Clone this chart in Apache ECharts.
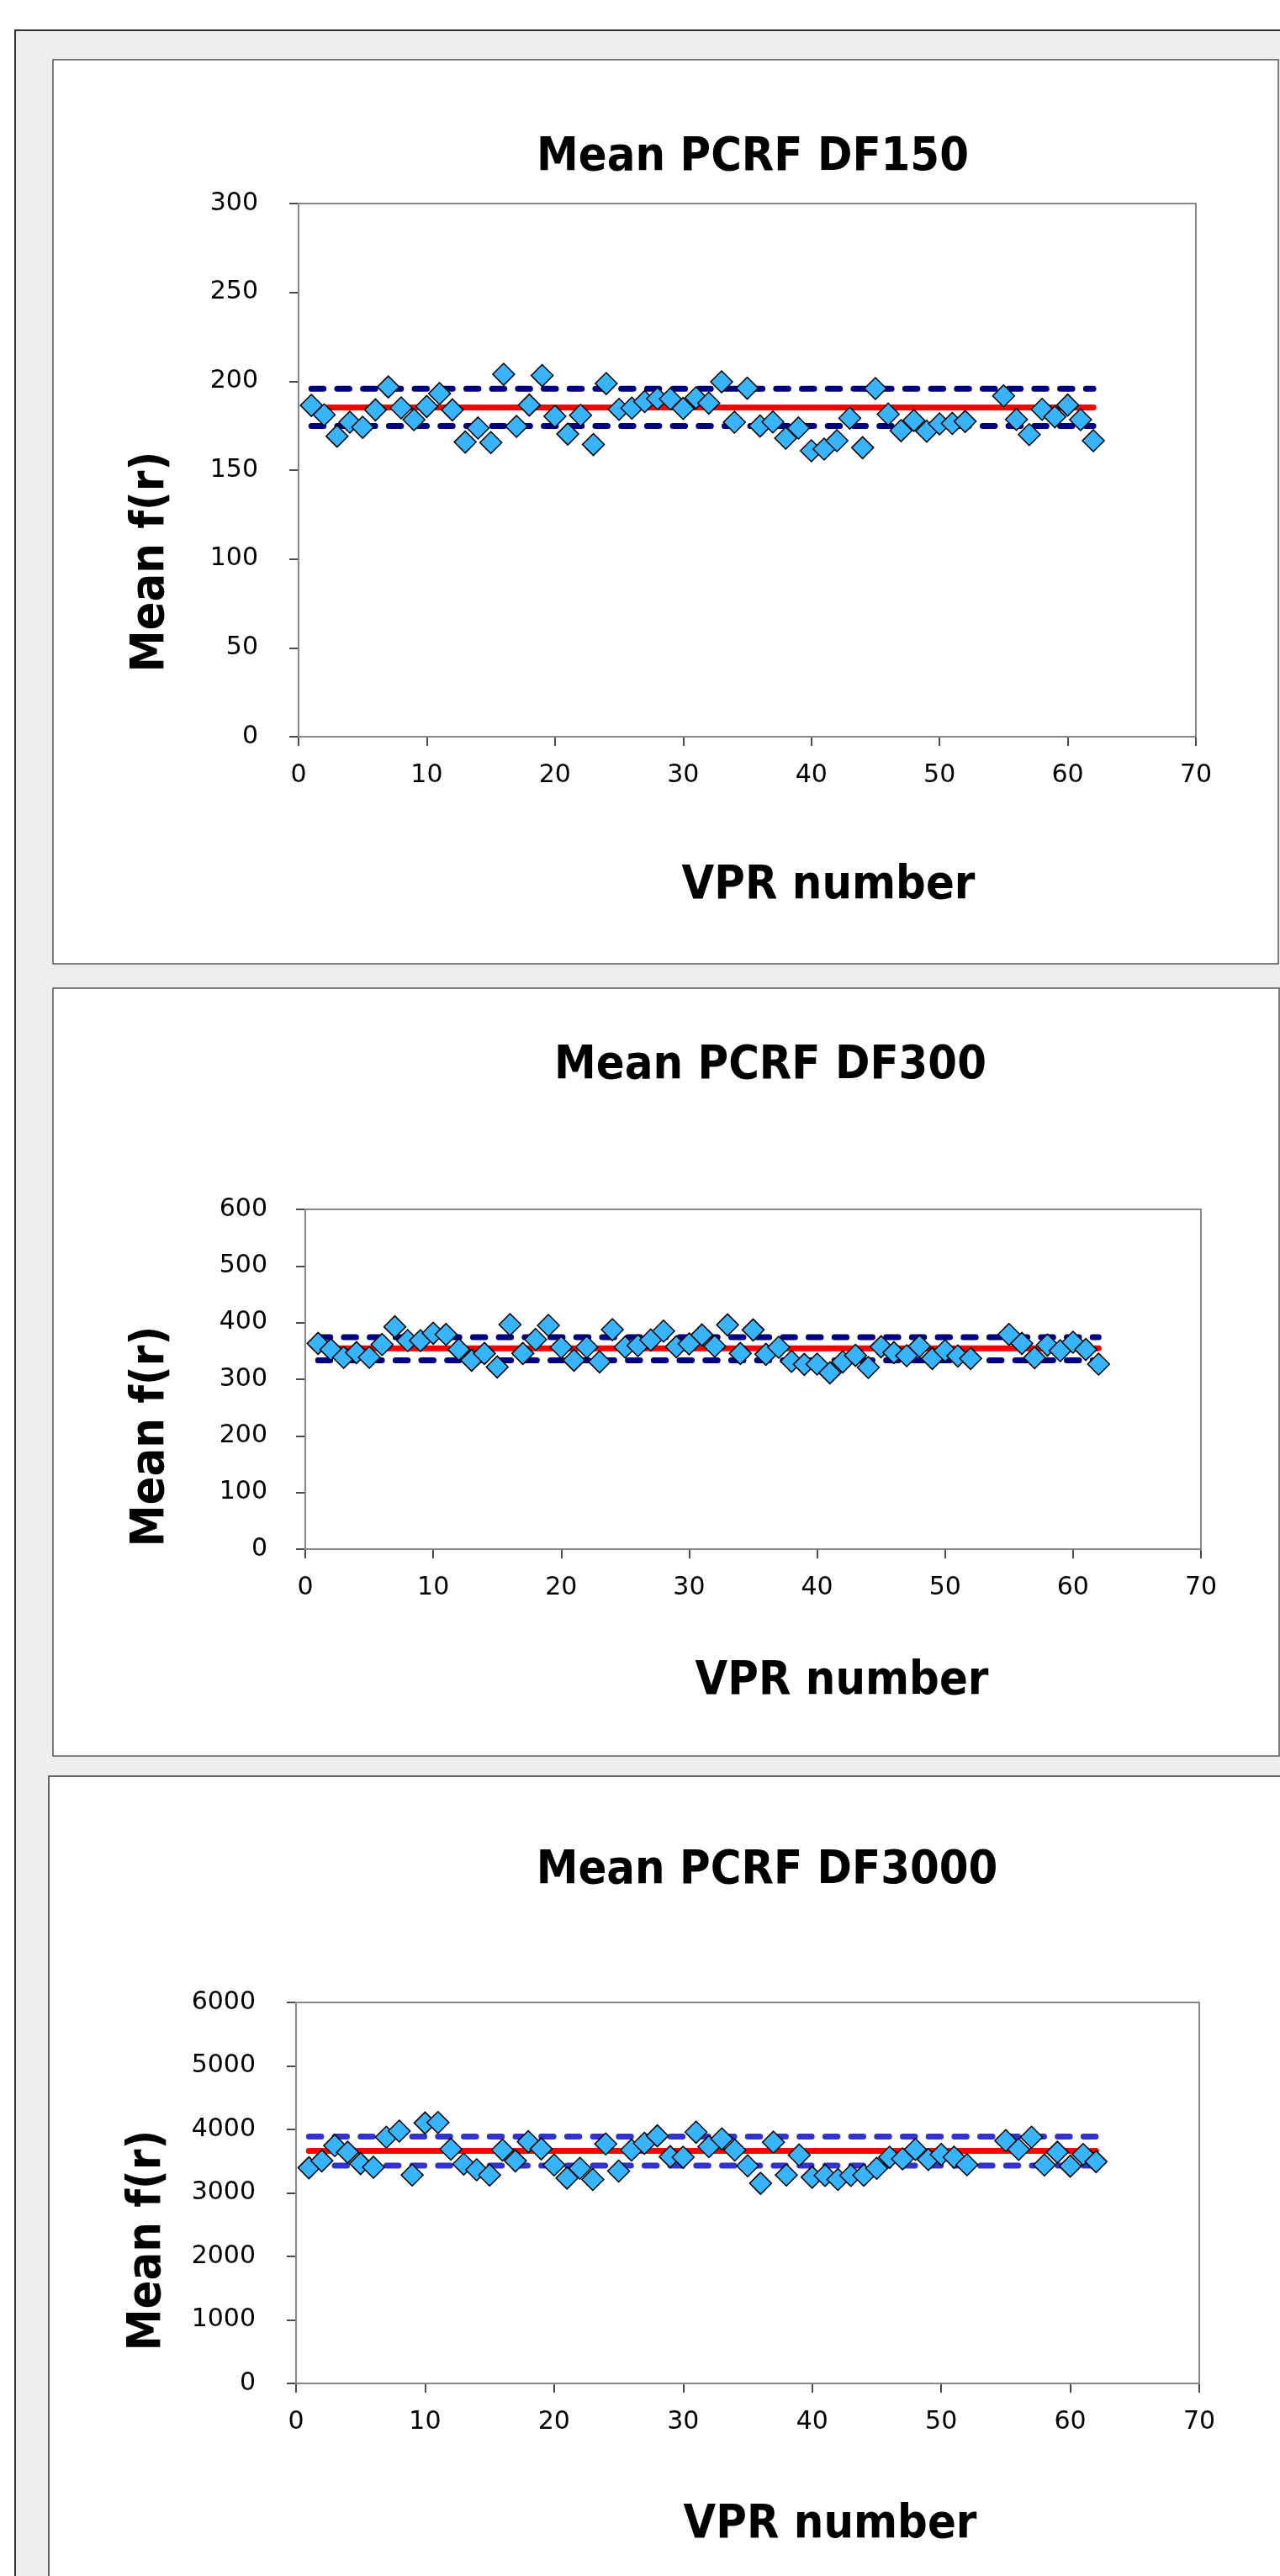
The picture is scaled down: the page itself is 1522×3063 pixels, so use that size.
<!DOCTYPE html>
<html>
<head>
<meta charset="utf-8">
<script src="https://cdn.jsdelivr.net/npm/echarts@6/dist/echarts.min.js"></script>
<style>
  html, body { margin: 0; padding: 0; background: #ffffff; }
  #chart { width: 1522px; height: 3063px; }
</style>
</head>
<body>
<div id="chart"></div>
<script>
// VPR numbers 53 and 54 have no point
const vprNumbers = [1, 2, 3, 4, 5, 6, 7, 8, 9, 10, 11, 12, 13, 14, 15, 16, 17, 18, 19, 20,
  21, 22, 23, 24, 25, 26, 27, 28, 29, 30, 31, 32, 33, 34, 35, 36, 37, 38, 39, 40,
  41, 42, 43, 44, 45, 46, 47, 48, 49, 50, 51, 52, 55, 56, 57, 58, 59, 60, 61, 62];

const df150Values = [186.4, 181.1, 169.1, 177.0, 174.1, 183.9, 196.8, 185.0, 178.4, 185.8,
  193.1, 183.9, 165.8, 173.7, 165.5, 203.9, 174.6, 186.6, 203.2, 180.3,
  170.3, 180.9, 164.4, 198.7, 184.2, 184.9, 188.6, 190.2, 190.1, 184.7,
  190.7, 187.7, 199.7, 177.0, 196.1, 174.8, 177.1, 168.0, 173.7, 160.9,
  161.8, 166.6, 179.2, 162.6, 195.9, 181.5, 172.2, 177.9, 171.9, 176.0,
  176.3, 177.4, 191.8, 178.5, 170.0, 184.2, 180.0, 186.6, 178.4, 166.6];

const df300Values = [363.3, 352.5, 338.6, 347.0, 338.6, 361.4, 392.6, 368.3, 368.3, 381.2,
  379.2, 352.5, 333.6, 345.5, 321.7, 396.5, 345.5, 370.3, 395.0, 356.4,
  333.6, 356.9, 330.7, 387.6, 356.9, 359.4, 369.3, 385.1, 357.4, 362.4,
  378.2, 358.4, 396.0, 345.5, 387.1, 344.0, 356.4, 331.6, 326.2, 326.7,
  311.3, 330.7, 342.1, 320.8, 357.4, 347.0, 341.6, 358.4, 336.6, 350.5,
  341.1, 336.6, 379.2, 363.3, 338.1, 360.4, 350.5, 365.3, 352.5, 326.7];

const df3000Values = [3396, 3505, 3746, 3641, 3462, 3405, 3877, 3974, 3282, 4101,
  4109, 3689, 3453, 3365, 3282, 3676, 3505, 3807, 3694, 3440,
  3234, 3387, 3212, 3772, 3344, 3676, 3781, 3899, 3571, 3562,
  3956, 3729, 3851, 3676, 3427, 3151, 3799, 3282, 3597, 3247,
  3274, 3212, 3274, 3278, 3387, 3562, 3536, 3685, 3527, 3606,
  3562, 3444, 3825, 3685, 3877, 3440, 3641, 3422, 3606, 3492];

// [lower, mean, upper] horizontal reference lines
const df150Band = [174.8, 185.3, 195.8];
const df300Band = [333.6, 354.4, 374.2];
const df3000Band = [3431, 3663, 3886];
const bandSpan = [1, 62];

const xRange = [0, 70, 10];
const df150Range = [0, 300, 50];
const df300Range = [0, 600, 100];
const df3000Range = [0, 6000, 1000];

const titles = ["Mean PCRF DF150", "Mean PCRF DF300", "Mean PCRF DF3000"];
const xName = "VPR number";
const yName = "Mean f(r)";

const FONT = '"DejaVu Sans", Verdana, sans-serif';

const charts = [
  {
    values: df150Values, band: df150Band, range: df150Range, dash: "#000080",
    grid: { left: 355, top: 242, width: 1067, height: 634 },
    labelMargin: 48,
    titlePos: [895, 188], xNamePos: [985, 1054], yNamePos: [180, 668]
  },
  {
    values: df300Values, band: df300Band, range: df300Range, dash: "#000080",
    grid: { left: 363, top: 1438, width: 1065, height: 404 },
    labelMargin: 45,
    titlePos: [916, 1268], xNamePos: [1001, 2000], yNamePos: [180, 1708]
  },
  {
    values: df3000Values, band: df3000Band, range: df3000Range, dash: "#3333cc",
    grid: { left: 352, top: 2381, width: 1074, height: 453 },
    labelMargin: 48,
    titlePos: [912, 2225], xNamePos: [987, 3003], yNamePos: [176, 2664]
  }
];

const grids = [], xAxes = [], yAxes = [], series = [];
const plain = (v) => String(v);

charts.forEach((c, i) => {
  grids.push({
    left: c.grid.left, top: c.grid.top, width: c.grid.width, height: c.grid.height,
    show: true, backgroundColor: "#ffffff", borderColor: "#888888", borderWidth: 2, z: 1
  });

  // visible x axis (ticks outside)
  xAxes.push({
    type: "value", gridIndex: i, min: xRange[0], max: xRange[1], interval: xRange[2],
    axisLine: { show: true, onZero: false, lineStyle: { color: "#444444", width: 2 } },
    axisTick: { show: true, length: 11, lineStyle: { color: "#111111", width: 1.5 } },
    axisLabel: { color: "#000000", fontFamily: FONT, fontSize: 30, margin: 31, formatter: plain },
    splitLine: { show: false }
  });
  // second x axis only for the inner half of the cross ticks
  xAxes.push({
    type: "value", gridIndex: i, min: xRange[0], max: xRange[1], interval: xRange[2],
    position: "bottom",
    axisLine: { show: false },
    axisTick: { show: true, inside: true, length: 11, lineStyle: { color: "#111111", width: 1.5 } },
    axisLabel: { show: false },
    splitLine: { show: false }
  });

  yAxes.push({
    type: "value", gridIndex: i, min: c.range[0], max: c.range[1], interval: c.range[2],
    axisLine: { show: true, onZero: false, lineStyle: { color: "#444444", width: 2 } },
    axisTick: { show: true, length: 11, lineStyle: { color: "#111111", width: 1.5 } },
    axisLabel: {
      color: "#000000", fontFamily: FONT, fontSize: 30, margin: c.labelMargin,
      padding: [0, 0, 10, 0], formatter: plain
    },
    splitLine: { show: true, lineStyle: { color: "#d9d9d9", width: 1.5 } }
  });
  yAxes.push({
    type: "value", gridIndex: i, min: c.range[0], max: c.range[1], interval: c.range[2],
    position: "left",
    axisLine: { show: false },
    axisTick: { show: true, inside: true, length: 11, lineStyle: { color: "#111111", width: 1.5 } },
    axisLabel: { show: false },
    splitLine: { show: false }
  });

  const xi = i * 2, yi = i * 2;
  const bandStyles = [
    { color: c.dash, width: 7, type: [14.5, 16.2], cap: "round" },
    { color: "#ff0000", width: 7, type: "solid", cap: "round" },
    { color: c.dash, width: 7, type: [14.5, 16.2], cap: "round" }
  ];
  c.band.forEach((v, k) => {
    series.push({
      type: "line", xAxisIndex: xi, yAxisIndex: yi,
      data: [[bandSpan[0], v], [bandSpan[1], v]],
      showSymbol: false, silent: true, animation: false, z: 3,
      lineStyle: bandStyles[k]
    });
  });

  series.push({
    type: "scatter", xAxisIndex: xi, yAxisIndex: yi,
    data: vprNumbers.map((n, k) => [n, c.values[k]]),
    symbol: "diamond", symbolSize: 26, animation: false, z: 5,
    itemStyle: { color: "#38b4fc", borderColor: "#000000", borderWidth: 1.5, opacity: 1 }
  });
});

function boldText(text, pos, rotation) {
  return {
    type: "text", x: pos[0], y: pos[1], rotation: rotation || 0, scaleY: 1.1, z: 10,
    style: {
      text: text, fontFamily: FONT, fontWeight: "bold", fontSize: 50,
      fill: "#000000", align: "center", verticalAlign: "middle"
    }
  };
}

const graphic = [
  { type: "rect", z: -10, shape: { x: 18, y: 36, width: 1600, height: 3100 },
    style: { fill: "#eeeeee", stroke: "#333333", lineWidth: 2 } },
  { type: "rect", z: -9, shape: { x: 63, y: 71, width: 1457, height: 1075 },
    style: { fill: "#ffffff", stroke: "#555555", lineWidth: 1.5 } },
  { type: "rect", z: -9, shape: { x: 63, y: 1175, width: 1458, height: 913 },
    style: { fill: "#ffffff", stroke: "#555555", lineWidth: 1.5 } },
  { type: "rect", z: -9, shape: { x: 58, y: 2112, width: 1500, height: 1000 },
    style: { fill: "#ffffff", stroke: "#333333", lineWidth: 1.5 } }
];
charts.forEach((c, i) => {
  graphic.push(boldText(titles[i], c.titlePos));
  graphic.push(boldText(xName, c.xNamePos));
  graphic.push(boldText(yName, c.yNamePos, Math.PI / 2));
});

const chart = echarts.init(document.getElementById("chart"), null, { renderer: "canvas" });
chart.setOption({
  animation: false,
  backgroundColor: "#ffffff",
  graphic: graphic,
  grid: grids,
  xAxis: xAxes,
  yAxis: yAxes,
  series: series
});
</script>
</body>
</html>
